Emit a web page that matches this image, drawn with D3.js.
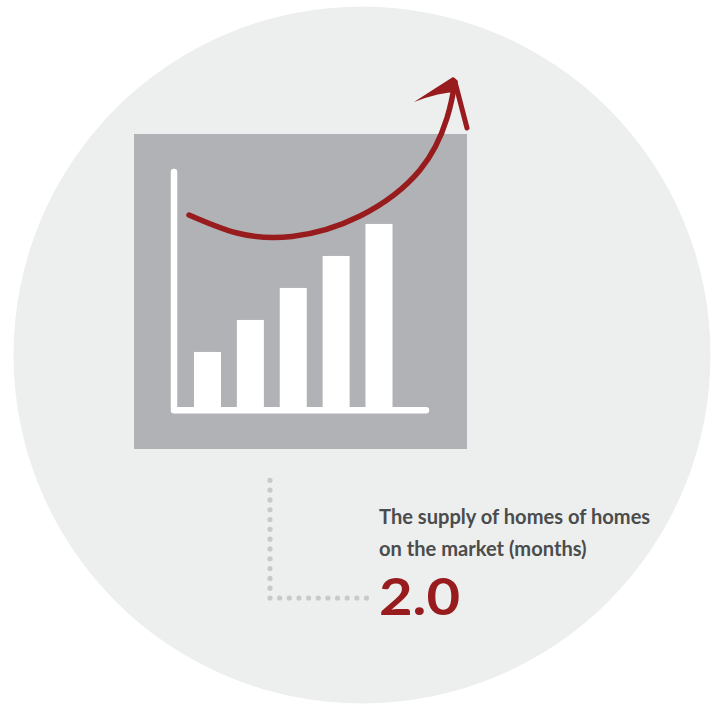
<!DOCTYPE html>
<html><head><meta charset="utf-8">
<script src="https://cdn.jsdelivr.net/npm/d3@7/dist/d3.min.js"></script>
<style>html,body{margin:0;padding:0;background:#fff;overflow:hidden}svg{display:block}</style>
</head><body><div id="c"></div>
<script>
const categories = ["A","B","C","D","E"];
const barValues = [1.72,2.72,3.72,4.72,5.72];
const captionLines = ["The supply of homes of homes","on the market (months)"];
const headline = "2.0";
const trendX = [189,237,292,360,420,447,455];
const trendY = [215,233,236.5,216,170,118,82];

const svg = d3.select("#c").append("svg").attr("width",715).attr("height",704);
svg.append("circle").attr("cx",362).attr("cy",355).attr("r",348.5).attr("fill","#edefef");
svg.append("rect").attr("x",134).attr("y",134).attr("width",333).attr("height",315).attr("fill","#b1b2b5");

const x = d3.scaleBand().domain(categories).range([194,392.5]).paddingInner(0.37).paddingOuter(0);
const y = d3.scaleLinear().domain([0,6]).range([407,215]);
svg.selectAll("rect.bar").data(categories).join("rect").attr("class","bar")
  .attr("x",d=>x(d)).attr("width",x.bandwidth())
  .attr("y",(d,i)=>y(barValues[i])).attr("height",(d,i)=>y(0)-y(barValues[i])).attr("fill","#fff");

const axisLine = d3.line();
svg.append("path").attr("d",axisLine([[174,172],[174,410.3],[426,410.3]]))
  .attr("fill","none").attr("stroke","#fff").attr("stroke-width",6.5)
  .attr("stroke-linecap","round").attr("stroke-linejoin","round");

const red = "#981b1e";
const curve = d3.line().curve(d3.curveNatural);
svg.append("path").attr("d",curve(trendX.map((v,i)=>[v,trendY[i]])))
  .attr("fill","none").attr("stroke",red).attr("stroke-width",5.5).attr("stroke-linecap","round");
// arrow head: tapered left barb, rounded right barb
svg.append("path").attr("d","M414,102 Q434,89 453,77 L456,79 L457,92 Q440,92 414,102 Z").attr("fill",red);
svg.append("path").attr("d",axisLine([[455,82],[467,128]]))
  .attr("stroke",red).attr("stroke-width",5).attr("stroke-linecap","round").attr("fill","none");

const dotsV = d3.range(13), dotsH = d3.range(1,11);
const dy = d3.scaleLinear().domain([0,12]).range([480.3,598]);
const dx = d3.scaleLinear().domain([0,10]).range([270,366.5]);
svg.selectAll("circle.v").data(dotsV).join("circle").attr("class","v")
  .attr("cx",270).attr("cy",d=>dy(d)).attr("r",2.6).attr("fill","#c8caca");
svg.selectAll("circle.h").data(dotsH).join("circle").attr("class","h")
  .attr("cx",d=>dx(d)).attr("cy",598).attr("r",2.6).attr("fill","#c8caca");

svg.selectAll("text.cap").data(captionLines).join("text").attr("class","cap")
  .attr("x",379).attr("y",(d,i)=>524+i*32)
  .attr("font-family","Lato").attr("font-weight",700).attr("font-size",20.1)
  .attr("fill","#4b4c4c").text(d=>d);
svg.append("text").attr("x",379).attr("y",615)
  .attr("font-family","Lato").attr("font-weight",700).attr("font-size",51)
  .attr("textLength",81).attr("lengthAdjust","spacingAndGlyphs")
  .attr("fill",red).text(headline);
</script></body></html>
